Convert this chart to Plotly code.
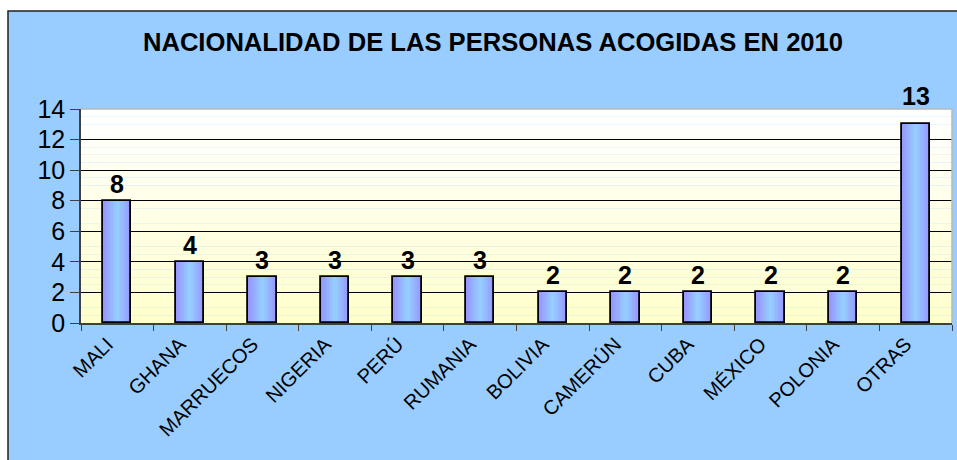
import plotly.graph_objects as go

categories = ["MALI", "GHANA", "MARRUECOS", "NIGERIA", "PERÚ", "RUMANIA",
              "BOLIVIA", "CAMERÚN", "CUBA", "MÉXICO", "POLONIA", "OTRAS"]
values = [8, 4, 3, 3, 3, 3, 2, 2, 2, 2, 2, 13]
y_ticks = [0, 2, 4, 6, 8, 10, 12, 14]
title_text = "NACIONALIDAD DE LAS PERSONAS ACOGIDAS EN 2010"

W, H = 957, 460
L, R, T, B = 81, 5, 109, 137
PW, PH = W - L - R, H - T - B
FONT = "Liberation Sans, Arial, sans-serif"
Y_MAX = 14

fig = go.Figure()

# bars with horizontal gradient (edge periwinkle -> light blue center)
full_w = 0.39
edge = (150, 150, 255)
center = (150, 205, 255)
n = 9
for k in range(n):
    f = k / (n - 1)
    col = tuple(round(edge[j] + (center[j] - edge[j]) * f) for j in range(3))
    w = full_w * (1 - k / n)
    fig.add_trace(go.Bar(x=categories, y=values, width=w,
                         marker=dict(color="rgb(%d,%d,%d)" % col, line=dict(width=0)),
                         hoverinfo="skip", showlegend=False))
# outline
fig.add_trace(go.Bar(x=categories, y=values, width=full_w,
                     marker=dict(color="rgba(0,0,0,0)", line=dict(color="black", width=1.8)),
                     showlegend=False))

# value labels above bars (pushed clear of the plot top when near it)
annotations = []
for c, v in zip(categories, values):
    annotations.append(dict(x=c, y=v, xref="x", yref="y", text="<b>%d</b>" % v,
                            showarrow=False, yanchor="bottom",
                            yshift=12 if v > Y_MAX - 1.5 else 1,
                            font=dict(family=FONT, size=25, color="black")))

shapes = []
# chart frame
shapes.append(dict(type="rect", xref="paper", yref="paper",
                   x0=(8 - L) / PW, x1=(W + 30 - L) / PW,
                   y0=(T + PH - (H + 30)) / PH, y1=(T + PH - 11) / PH,
                   fillcolor="#99CCFF", line=dict(color="#222222", width=1.5),
                   layer="below"))
# plot-area vertical gradient (white top -> light yellow bottom)
nb = 28
for i in range(nb):
    f = i / (nb - 1)
    b = round(204 + (255 - 204) * f)
    shapes.append(dict(type="rect", xref="paper", yref="y", x0=0, x1=1,
                       y0=Y_MAX * i / nb, y1=Y_MAX * (i + 1) / nb,
                       fillcolor="rgb(255,255,%d)" % b, line=dict(width=0),
                       layer="below"))
# light top/right border of plot area
shapes.append(dict(type="line", xref="paper", yref="paper", x0=0, x1=1, y0=1, y1=1,
                   line=dict(color="#B8B8B8", width=1.5), layer="above"))
shapes.append(dict(type="line", xref="paper", yref="paper", x0=1, x1=1, y0=0, y1=1,
                   line=dict(color="#B8B8B8", width=1.5), layer="above"))

fig.update_layout(
    width=W, height=H,
    margin=dict(l=L, r=R, t=T, b=B, autoexpand=False),
    paper_bgcolor="white", plot_bgcolor="#FFFFE6",
    barmode="overlay", bargap=0,
    shapes=shapes, annotations=annotations,
    title=dict(text="<b>%s</b>" % title_text, x=493 / W, xanchor="center",
               y=1 - 42 / H, yanchor="middle", xref="container", yref="container",
               font=dict(family=FONT, size=25.6, color="black")),
    font=dict(family=FONT, color="black"),
    xaxis=dict(type="category", tickangle=-45, tickfont=dict(size=20),
               ticklabelshift=-10,
               showline=True, linecolor="#404040", linewidth=1.5,
               ticks="outside", ticklen=6, tickcolor="#404040", tickwidth=1.2,
               tickson="boundaries", showgrid=False, fixedrange=True),
    yaxis=dict(range=[0, Y_MAX], tickvals=y_ticks, tickfont=dict(size=25),
               showline=True, linecolor="#404040", linewidth=1.5,
               ticks="outside", ticklen=9, tickcolor="#404040", tickwidth=1.2,
               showgrid=True, gridcolor="black", gridwidth=1,
               zeroline=False, fixedrange=True),
)

fig.write_html("out.html", config={"displayModeBar": False},
               post_script="document.body.style.margin='0';document.body.style.overflow='hidden';")
